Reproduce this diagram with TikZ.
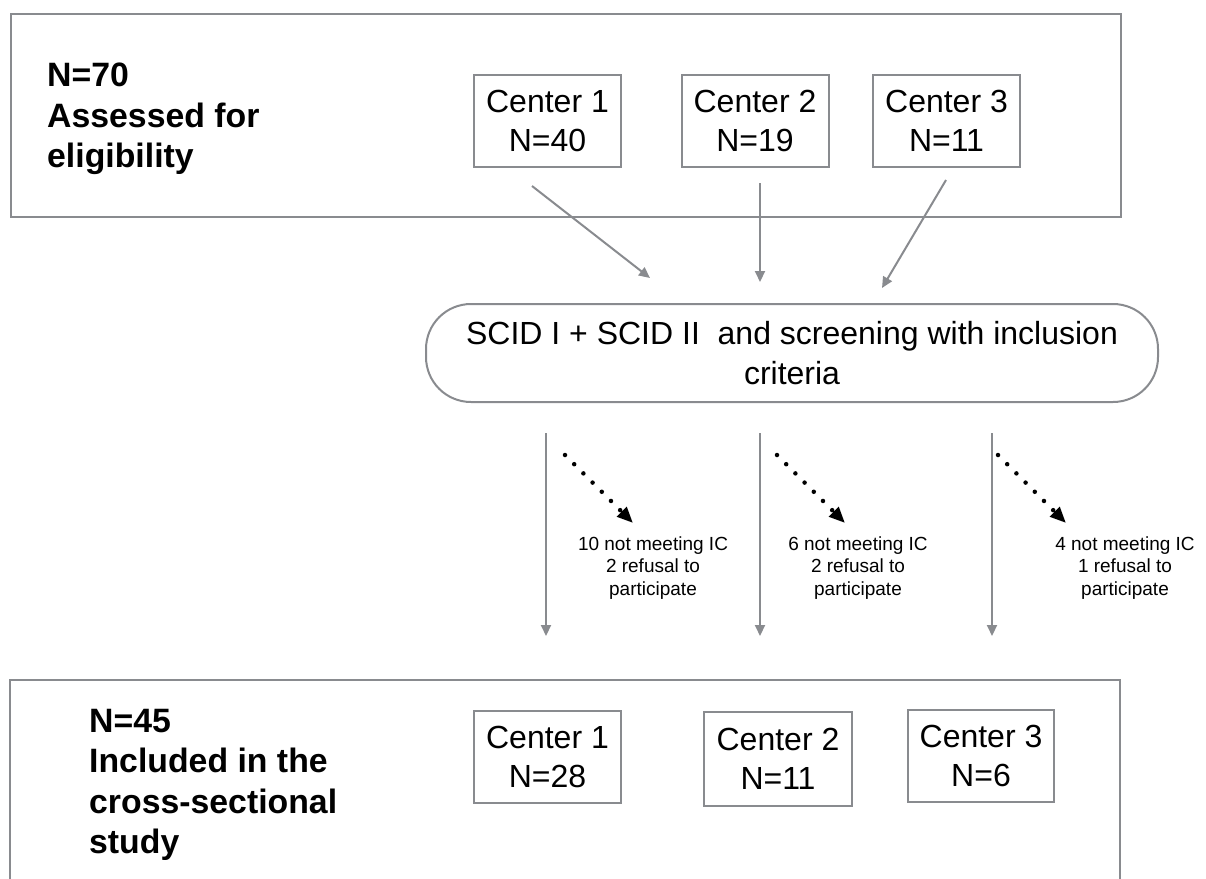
\documentclass[tikz,border=0pt]{standalone}
\usepackage{fontspec}
\setmainfont{Liberation Sans}
\usetikzlibrary{positioning}
\usetikzlibrary{arrows.meta}
\definecolor{frame}{RGB}{137,139,143}

\begin{document}
\begin{tikzpicture}[x=1pt,y=-1pt,
    frameline/.style={draw=frame, line width=2pt},
    centerbox/.style={frameline, minimum width=147pt, minimum height=92pt, inner sep=0pt,
        align=center, font=\fontsize{32}{39}\selectfont},
    headtext/.style={anchor=west, align=left, inner sep=0pt, font=\fontsize{33.8}{40.5}\selectfont\bfseries},
    smalltext/.style={align=center, inner sep=0pt, font=\fontsize{19}{22.5}\selectfont},
    grayarrow/.style={draw=frame, line width=2pt, -{Triangle[length=11pt,width=10pt]}, fill=frame},
    dotarrow/.style={line width=4.5pt, line cap=round, dash pattern=on 0pt off 13pt,
        -{Triangle[length=16pt,width=13pt]}}]
    \useasboundingbox (0,0) rectangle (1206,878);

    % top frame
    \node[frameline, minimum width=1110pt, minimum height=203pt, anchor=north west] (top) at (10,13) {};
    \node[headtext] (toptext) at (47,119) {N=70\\Assessed for\\eligibility};
    \node[centerbox] (ct1) at (547.5,120.5) {Center 1\\N=40};
    \node[centerbox] (ct2) at (755,120.5) {Center 2\\N=19};
    \node[centerbox] (ct3) at (946.5,120.5) {Center 3\\N=11};

    % screening
    \node[frameline, rounded corners=45pt, minimum width=732pt, minimum height=98pt, align=center,
        font=\fontsize{32}{40}\selectfont] (screen) at (792,353)
        {SCID I + SCID II\ \ and screening with inclusion\\criteria};

    \coordinate (a1) at (532,186);  \coordinate (b1) at (650,278);
    \coordinate (a2) at (760,183);  \coordinate (b2) at (760,282);
    \coordinate (a3) at (946,180);  \coordinate (b3) at (882,288);
    \foreach \i in {1,2,3} {
        \draw[grayarrow] (a\i) -- (b\i);
    }

    % excluded
    \coordinate (s1) at (546,433);  \coordinate (e1) at (546,636);
    \coordinate (s2) at (760,433);  \coordinate (e2) at (760,636);
    \coordinate (s3) at (992,433);  \coordinate (e3) at (992,636);
    \coordinate (d1) at (565,455);  \coordinate (f1) at (633,523);
    \coordinate (d2) at (777,455);  \coordinate (f2) at (845,523);
    \coordinate (d3) at (998,455);  \coordinate (f3) at (1066,523);
    \foreach \i in {1,2,3} {
        \draw[grayarrow] (s\i) -- (e\i);
        \draw[dotarrow] (d\i) -- (f\i);
    }
    \node[smalltext] (ex1) at (653,568) {10 not meeting IC\\2 refusal to\\participate};
    \node[smalltext] (ex2) at (858,568) {6 not meeting IC\\2 refusal to\\participate};
    \node[smalltext] (ex3) at (1125,568) {4 not meeting IC\\1 refusal to\\participate};

    % bottom frame
    \draw[frameline] (10,880) -- (10,680) -- (1120,680) -- (1120,880);
    \node[headtext] (bottext) at (89,785) {N=45\\Included in the\\cross-sectional\\study};
    \node[centerbox] (cb1) at (547.5,757) {Center 1\\N=28};
    \node[centerbox, minimum width=148pt, minimum height=94pt] (cb2) at (778,759) {Center 2\\N=11};
    \node[centerbox, minimum width=146pt] (cb3) at (981,756) {Center 3\\N=6};
\end{tikzpicture}
\end{document}
